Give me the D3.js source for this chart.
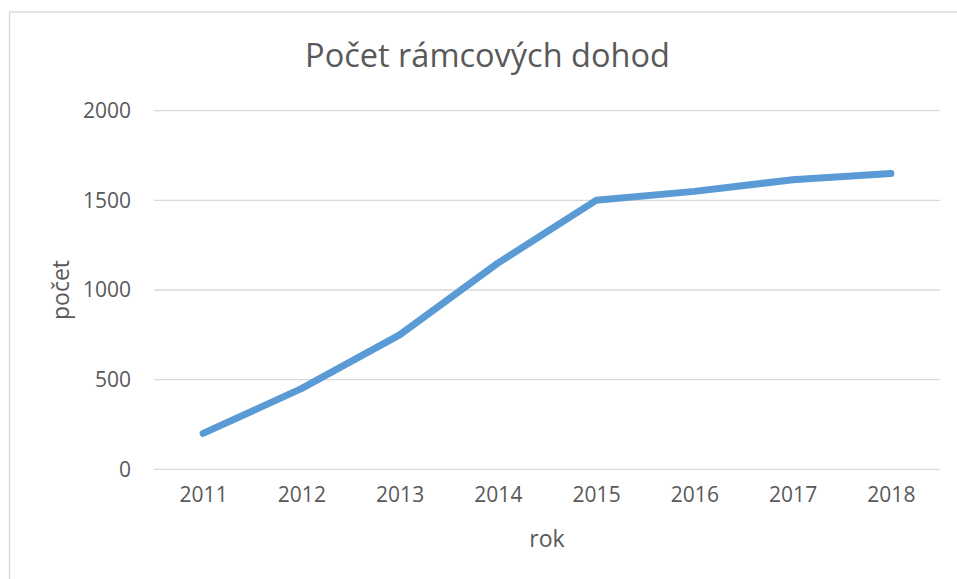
<!DOCTYPE html>
<html>
<head>
<meta charset="utf-8">
<script src="https://cdn.jsdelivr.net/npm/d3@7"></script>
<style>
	body { margin: 0; background: #fff; }
	text { font-family: "Open Sans", "Liberation Sans", sans-serif; fill: #595959; }
</style>
</head>
<body>
<svg id="chart" width="957" height="579"></svg>
<script>
var title = "Počet rámcových dohod";
var xTitle = "rok";
var yTitle = "počet";
var years = ["2011", "2012", "2013", "2014", "2015", "2016", "2017", "2018"];
var counts = [200, 450, 750, 1150, 1500, 1550, 1615, 1650];
var yTicks = [0, 500, 1000, 1500, 2000];

var svg = d3.select("#chart");

// chart frame (cut off at right and bottom in the picture)
svg.append("rect")
	.attr("x", 9.5).attr("y", 12)
	.attr("width", 1000).attr("height", 700)
	.attr("fill", "none")
	.attr("stroke", "#d9d9d9")
	.attr("stroke-width", 1.3);

var plotLeft = 154, plotRight = 940, plotTop = 110.7, plotBottom = 469.3;

var x = d3.scalePoint()
	.domain(years)
	.range([plotLeft, plotRight])
	.padding(0.5);
var y = d3.scaleLinear()
	.domain([0, 2000])
	.range([plotBottom, plotTop]);

//gridlines
svg.append("g")
	.selectAll("line")
	.data(yTicks)
	.enter()
	.append("line")
		.attr("x1", plotLeft).attr("x2", plotRight)
		.attr("y1", function(d) {return y(d);})
		.attr("y2", function(d) {return y(d);})
		.attr("stroke", "#d9d9d9")
		.attr("stroke-width", 1.3);

var yAxis = svg.append("g")
	.attr("transform", "translate(" + plotLeft + ",0)")
	.call(d3.axisLeft(y).tickValues(yTicks).tickFormat(d3.format("d")).tickSize(0).tickPadding(23));
yAxis.select(".domain").remove();
yAxis.selectAll("text")
	.style("font-size", "21px")
	.attr("fill", "#595959");

var xAxis = svg.append("g")
	.attr("transform", "translate(0," + plotBottom + ")")
	.call(d3.axisBottom(x).tickSize(0).tickPadding(18));
xAxis.select(".domain").remove();
xAxis.selectAll("text")
	.style("font-size", "21px")
	.attr("fill", "#595959");

var line = d3.line()
	.x(function(d, i) {return x(years[i]);})
	.y(function(d) {return y(d);});

svg.append("path")
	.datum(counts)
	.attr("d", line)
	.attr("fill", "none")
	.attr("stroke", "#5b9bd5")
	.attr("stroke-width", 7)
	.attr("stroke-linecap", "round")
	.attr("stroke-linejoin", "round");

svg.append("text")
	.attr("x", 487.5).attr("y", 67)
	.attr("text-anchor", "middle")
	.style("font-size", "32.5px")
	.text(title);

svg.append("text")
	.attr("x", (plotLeft + plotRight) / 2).attr("y", 546.5)
	.attr("text-anchor", "middle")
	.style("font-size", "23px")
	.text(xTitle);

svg.append("text")
	.attr("transform", "translate(69," + ((plotTop + plotBottom) / 2) + ") rotate(-90)")
	.attr("text-anchor", "middle")
	.style("font-size", "23px")
	.text(yTitle);
</script>
</body>
</html>
